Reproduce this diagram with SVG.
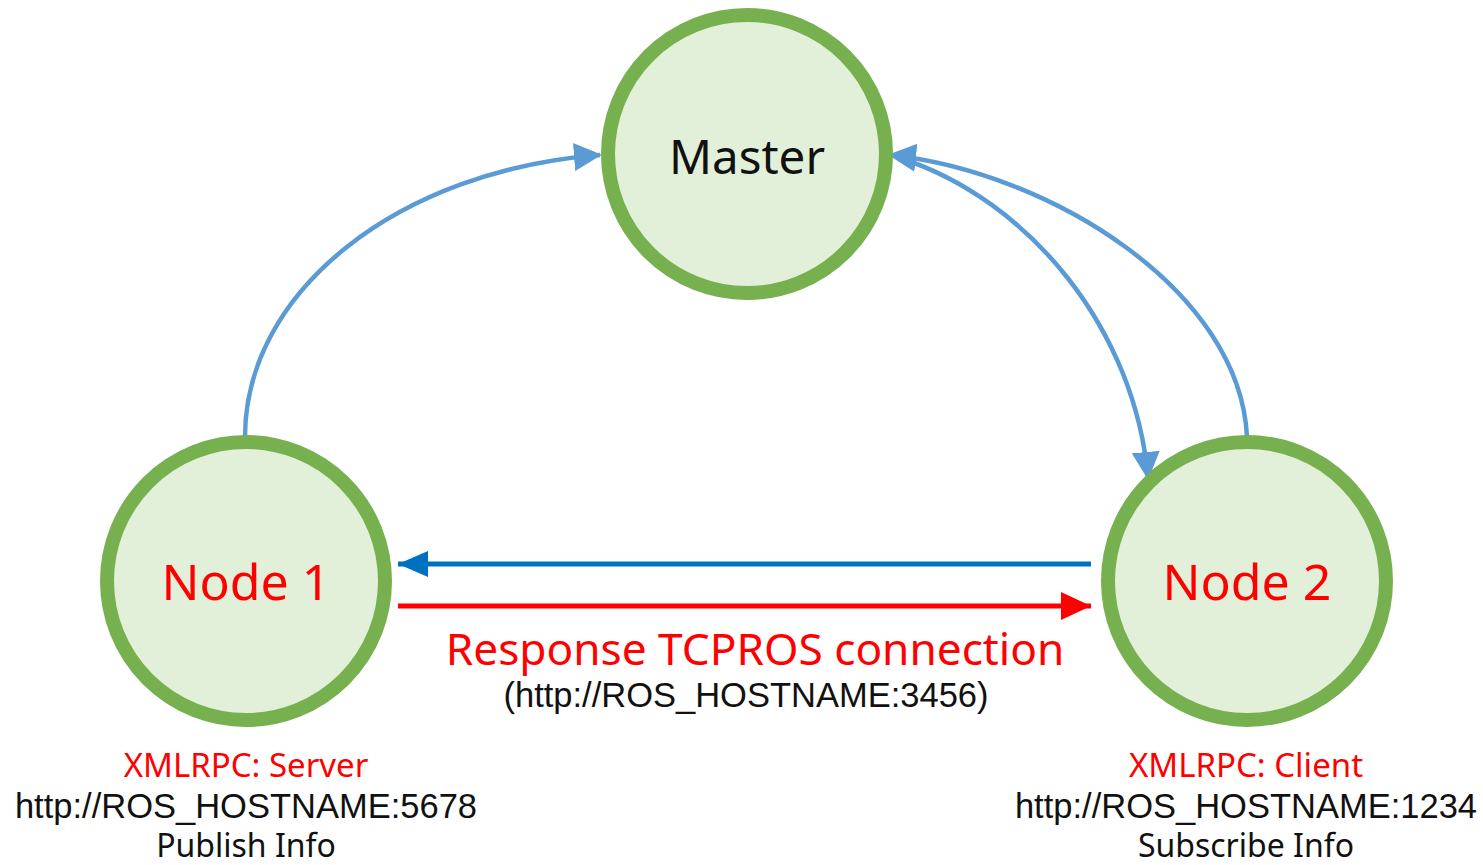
<svg xmlns="http://www.w3.org/2000/svg" width="1483" height="865" viewBox="0 0 1483 865">
<style>
.node{fill:#E2F0D9;stroke:#77B04F;stroke-width:14}
.lbl{font-family:"Noto Sans","Open Sans",sans-serif;text-anchor:middle}
.url{font-family:"Liberation Sans",Arial,sans-serif;text-anchor:middle;font-size:34.5px;fill:#111}
.red{fill:#FF0000}
.blk{fill:#111}
.lb{fill:none;stroke:#5B9BD5;stroke-width:4.5}
</style>
<defs>
<marker id="ahL" markerUnits="userSpaceOnUse" markerWidth="34" markerHeight="32" refX="26" refY="14" orient="auto"><path d="M0,0 L28,14 L0,28 Z" fill="#5B9BD5"/></marker>
<marker id="ahD" markerUnits="userSpaceOnUse" markerWidth="36" markerHeight="30" refX="30" refY="13" orient="auto"><path d="M0,0 L30,13 L0,26 Z" fill="#0070C0"/></marker>
<marker id="ahR" markerUnits="userSpaceOnUse" markerWidth="36" markerHeight="30" refX="30" refY="14" orient="auto"><path d="M0,0 L30,14 L0,28 Z" fill="#FF0000"/></marker>
</defs>
<rect width="1483" height="865" fill="#fff"/>
<g id="connectors">
<path class="lb" d="M245,437 C245,290 400,170 600,155" marker-end="url(#ahL)"/>
<path class="lb" d="M1247,437 C1240,290 1050,172 890,155" marker-end="url(#ahL)"/>
<path class="lb" d="M900,158 C1030,200 1135,330 1148,478" marker-end="url(#ahL)"/>
<line x1="1091" y1="564" x2="398" y2="564" stroke="#0070C0" stroke-width="5" marker-end="url(#ahD)"/>
<line x1="398" y1="606" x2="1091" y2="606" stroke="#FF0000" stroke-width="5" marker-end="url(#ahR)"/>
</g>
<g id="master">
<circle class="node" cx="747" cy="154" r="139"/>
<text class="lbl blk" x="747" y="174" font-size="47.5">Master</text>
</g>
<g id="node1">
<circle class="node" cx="246" cy="581" r="139"/>
<text class="lbl red" x="246" y="600" font-size="50">Node 1</text>
<text class="lbl red" x="246" y="777" font-size="33">XMLRPC: Server</text>
<text class="url" x="246" y="818">http://ROS_HOSTNAME:5678</text>
<text class="lbl blk" x="246" y="857" font-size="32">Publish Info</text>
</g>
<g id="node2">
<circle class="node" cx="1247" cy="581" r="139"/>
<text class="lbl red" x="1247" y="600" font-size="50">Node 2</text>
<text class="lbl red" x="1246" y="777" font-size="33">XMLRPC: Client</text>
<text class="url" x="1246" y="818">http://ROS_HOSTNAME:1234</text>
<text class="lbl blk" x="1246" y="857" font-size="32">Subscribe Info</text>
</g>
<g id="edge-label">
<text class="lbl red" x="755" y="665" font-size="44.2">Response TCPROS connection</text>
<text class="url" x="746" y="707">(http://ROS_HOSTNAME:3456)</text>
</g>
</svg>
